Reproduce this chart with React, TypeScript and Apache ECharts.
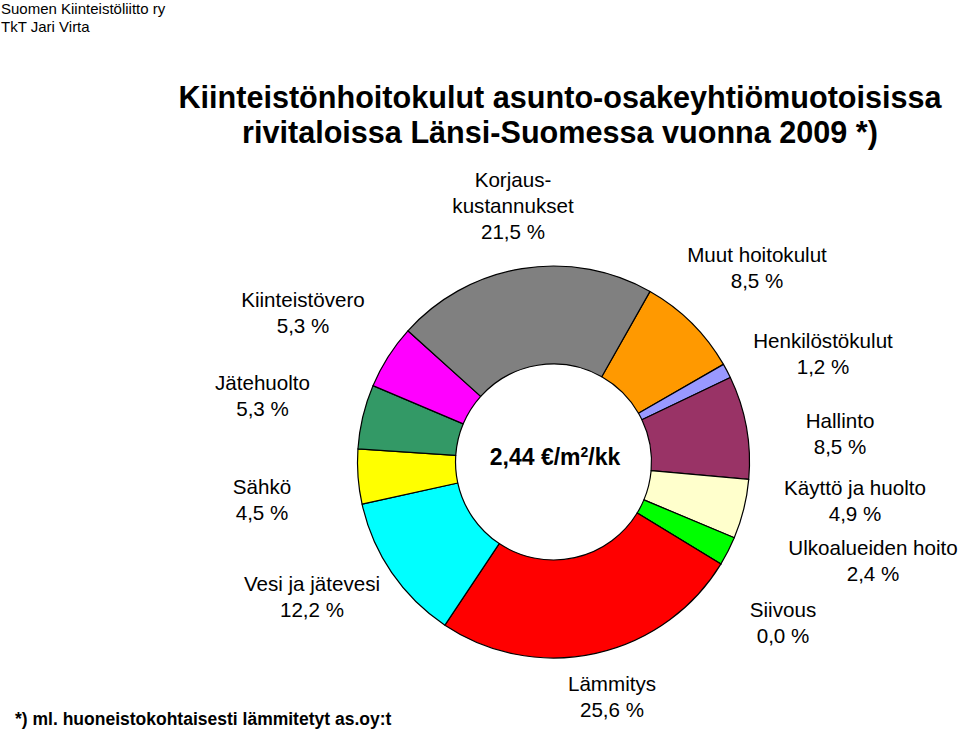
import React, { useEffect, useRef } from 'react';
import * as echarts from 'echarts';

// ---- data (clockwise from the top-right) ----
const categories = [
  'Muut hoitokulut',
  'Henkilöstökulut',
  'Hallinto',
  'Käyttö ja huolto',
  'Ulkoalueiden hoito',
  'Siivous',
  'Lämmitys',
  'Vesi ja jätevesi',
  'Sähkö',
  'Jätehuolto',
  'Kiinteistövero',
  'Korjaus-\nkustannukset',
];
const shares = [8.5, 1.2, 8.5, 4.9, 2.4, 0.0, 25.6, 12.2, 4.5, 5.3, 5.3, 21.5];
const totalCost = '2,44';
const titleLines = [
  'Kiinteistönhoitokulut asunto-osakeyhtiömuotoisissa',
  'rivitaloissa Länsi-Suomessa vuonna 2009 *)',
];
const sourceLines = ['Suomen Kiinteistöliitto ry', 'TkT Jari Virta'];
const footnote = '*) ml. huoneistokohtaisesti lämmitetyt as.oy:t';

// ---- styles / layout ----
const sliceColors = [
  '#FF9900', '#9999FF', '#993366', '#FFFFCC', '#00FF00', '#CCFFFF',
  '#FF0000', '#00FFFF', '#FFFF00', '#339966', '#FF00FF', '#808080',
];
const labelPositions: [number, number][] = [
  [757, 267],
  [823, 353],
  [840, 433],
  [855, 500],
  [873, 560],
  [783, 622.5],
  [612, 696],
  [312, 596.5],
  [262, 499],
  [262.5, 395],
  [303, 312.5],
  [513, 205.5],
];
const FONT = "'Liberation Sans', Arial, Helvetica, sans-serif";

const fmt = (v: number) => v.toFixed(1).replace('.', ',') + ' %';

export default function App() {
  const ref = useRef<HTMLDivElement>(null);
  useEffect(() => {
    if (!ref.current) return;
    const chart = echarts.init(ref.current, undefined, { renderer: 'svg' });
    chart.setOption({
      animation: false,
      backgroundColor: '#ffffff',
      textStyle: { fontFamily: FONT },
      graphic: [
        {
          type: 'text',
          x: 1,
          y: -1,
          style: {
            text: sourceLines.join('\n'),
            font: `15px ${FONT}`,
            lineHeight: 18,
            fill: '#000',
            align: 'left',
            verticalAlign: 'top',
          },
        },
        {
          type: 'text',
          x: 560,
          y: 114,
          style: {
            text: titleLines.join('\n'),
            font: `bold 30.6px ${FONT}`,
            lineHeight: 35,
            fill: '#000',
            align: 'center',
            verticalAlign: 'middle',
          },
        },
        {
          type: 'text',
          x: 555,
          y: 457,
          style: {
            text: `{a|${totalCost} €/m}{s|2}{a|/kk}`,
            align: 'center',
            verticalAlign: 'middle',
            rich: {
              a: { fontSize: 23, fontWeight: 'bold', fontFamily: FONT, fill: '#000' },
              s: { fontSize: 14, fontWeight: 'bold', fontFamily: FONT, fill: '#000', padding: [0, 0, 10, 0] },
            },
          },
        },
        {
          type: 'text',
          x: 15,
          y: 719,
          style: {
            text: footnote,
            font: `bold 17.5px ${FONT}`,
            fill: '#000',
            align: 'left',
            verticalAlign: 'middle',
          },
        },
      ],
      series: [
        {
          type: 'pie',
          center: [553.5, 462],
          radius: [98, 196],
          startAngle: 60.5,
          clockwise: true,
          avoidLabelOverlap: false,
          itemStyle: { borderColor: '#000', borderWidth: 1.2 },
          emphasis: { disabled: true },
          label: {
            show: true,
            position: 'outside',
            formatter: (p: any) => `${p.name}\n${fmt(p.value)}`,
            fontFamily: FONT,
            fontSize: 20.6,
            lineHeight: 26,
            color: '#000',
            align: 'center',
          },
          labelLine: { show: false },
          labelLayout: (params: any) => {
            const pos = labelPositions[params.dataIndex];
            return { x: pos[0], y: pos[1], align: 'center', verticalAlign: 'middle' };
          },
          data: categories.map((name, i) => ({
            name,
            value: shares[i],
            itemStyle: { color: sliceColors[i] },
          })),
        },
      ],
    });
    return () => chart.dispose();
  }, []);
  return (
    <div
      ref={ref}
      style={{ position: 'absolute', left: 0, top: 0, width: 960, height: 734 }}
    />
  );
}
